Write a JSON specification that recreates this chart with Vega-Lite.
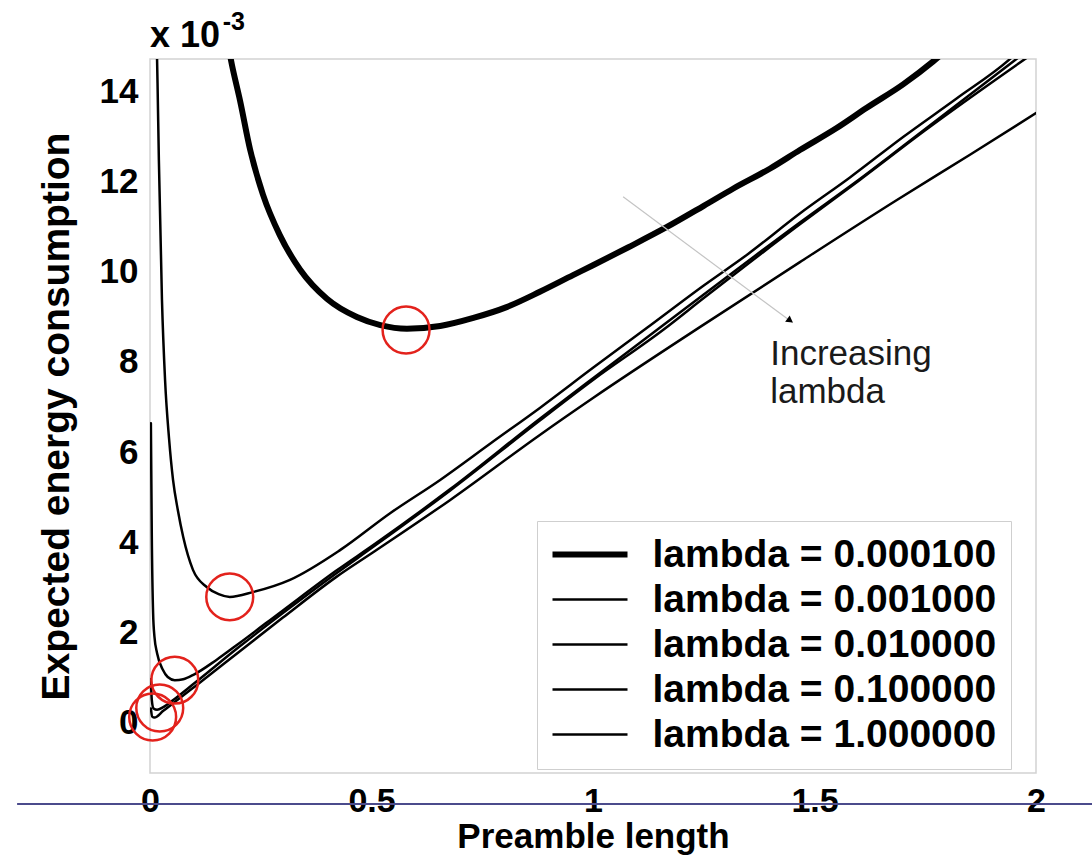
{
  "$schema": "https://vega.github.io/schema/vega-lite/v6.json",
  "width": 886,
  "height": 714,
  "autosize": {"type": "none"},
  "padding": {"left": 150, "top": 59, "right": 56, "bottom": 89},
  "background": "white",
  "config": {
    "view": {"stroke": "#d2d2d2", "strokeWidth": 1.5},
    "font": "Liberation Sans",
    "axis": {"labelFont": "Liberation Sans", "titleFont": "Liberation Sans", "labelFontWeight": "bold", "titleFontWeight": "bold", "labelColor": "black", "titleColor": "black"},
    "legend": {"labelFont": "Liberation Sans"}
  },
  "datasets": {
    "curves": [
      {"s": "lambda = 0.000100", "x": 0.175, "y": 15.1},
      {"s": "lambda = 0.000100", "x": 0.185, "y": 14.6},
      {"s": "lambda = 0.000100", "x": 0.203, "y": 13.82},
      {"s": "lambda = 0.000100", "x": 0.226, "y": 12.72},
      {"s": "lambda = 0.000100", "x": 0.255, "y": 11.72},
      {"s": "lambda = 0.000100", "x": 0.293, "y": 10.82},
      {"s": "lambda = 0.000100", "x": 0.339, "y": 10.05},
      {"s": "lambda = 0.000100", "x": 0.4, "y": 9.4},
      {"s": "lambda = 0.000100", "x": 0.467, "y": 9.0},
      {"s": "lambda = 0.000100", "x": 0.52, "y": 8.82},
      {"s": "lambda = 0.000100", "x": 0.58, "y": 8.74},
      {"s": "lambda = 0.000100", "x": 0.655, "y": 8.8},
      {"s": "lambda = 0.000100", "x": 0.73, "y": 8.98},
      {"s": "lambda = 0.000100", "x": 0.805, "y": 9.22},
      {"s": "lambda = 0.000100", "x": 0.88, "y": 9.56},
      {"s": "lambda = 0.000100", "x": 0.955, "y": 9.93},
      {"s": "lambda = 0.000100", "x": 1.0, "y": 10.15},
      {"s": "lambda = 0.000100", "x": 1.08, "y": 10.55},
      {"s": "lambda = 0.000100", "x": 1.167, "y": 11.0},
      {"s": "lambda = 0.000100", "x": 1.25, "y": 11.47},
      {"s": "lambda = 0.000100", "x": 1.316, "y": 11.85},
      {"s": "lambda = 0.000100", "x": 1.4, "y": 12.3},
      {"s": "lambda = 0.000100", "x": 1.467, "y": 12.71},
      {"s": "lambda = 0.000100", "x": 1.55, "y": 13.2},
      {"s": "lambda = 0.000100", "x": 1.618, "y": 13.65},
      {"s": "lambda = 0.000100", "x": 1.7, "y": 14.17},
      {"s": "lambda = 0.000100", "x": 1.768, "y": 14.68},
      {"s": "lambda = 0.000100", "x": 1.8, "y": 14.95},

      {"s": "lambda = 0.001000", "x": 0.0148, "y": 15.3},
      {"s": "lambda = 0.001000", "x": 0.017, "y": 14.2},
      {"s": "lambda = 0.001000", "x": 0.02, "y": 12.5},
      {"s": "lambda = 0.001000", "x": 0.027, "y": 9.38},
      {"s": "lambda = 0.001000", "x": 0.034, "y": 7.6},
      {"s": "lambda = 0.001000", "x": 0.043, "y": 6.3},
      {"s": "lambda = 0.001000", "x": 0.052, "y": 5.38},
      {"s": "lambda = 0.001000", "x": 0.063, "y": 4.7},
      {"s": "lambda = 0.001000", "x": 0.075, "y": 4.11},
      {"s": "lambda = 0.001000", "x": 0.097, "y": 3.38},
      {"s": "lambda = 0.001000", "x": 0.128, "y": 3.0},
      {"s": "lambda = 0.001000", "x": 0.155, "y": 2.84},
      {"s": "lambda = 0.001000", "x": 0.18, "y": 2.78},
      {"s": "lambda = 0.001000", "x": 0.233, "y": 2.89},
      {"s": "lambda = 0.001000", "x": 0.316, "y": 3.16},
      {"s": "lambda = 0.001000", "x": 0.429, "y": 3.82},
      {"s": "lambda = 0.001000", "x": 0.542, "y": 4.64},
      {"s": "lambda = 0.001000", "x": 0.655, "y": 5.38},
      {"s": "lambda = 0.001000", "x": 0.77, "y": 6.2},
      {"s": "lambda = 0.001000", "x": 0.88, "y": 6.98},
      {"s": "lambda = 0.001000", "x": 1.0, "y": 7.87},
      {"s": "lambda = 0.001000", "x": 1.122, "y": 8.76},
      {"s": "lambda = 0.001000", "x": 1.25, "y": 9.7},
      {"s": "lambda = 0.001000", "x": 1.35, "y": 10.4},
      {"s": "lambda = 0.001000", "x": 1.467, "y": 11.3},
      {"s": "lambda = 0.001000", "x": 1.58, "y": 12.1},
      {"s": "lambda = 0.001000", "x": 1.7, "y": 13.0},
      {"s": "lambda = 0.001000", "x": 1.82, "y": 13.85},
      {"s": "lambda = 0.001000", "x": 1.941, "y": 14.73},
      {"s": "lambda = 0.001000", "x": 1.96, "y": 14.9},

      {"s": "lambda = 0.010000", "x": 0.002, "y": 6.64},
      {"s": "lambda = 0.010000", "x": 0.004, "y": 4.2},
      {"s": "lambda = 0.010000", "x": 0.007, "y": 2.42},
      {"s": "lambda = 0.010000", "x": 0.01, "y": 1.9},
      {"s": "lambda = 0.010000", "x": 0.016, "y": 1.53},
      {"s": "lambda = 0.010000", "x": 0.029, "y": 1.16},
      {"s": "lambda = 0.010000", "x": 0.04, "y": 1.0},
      {"s": "lambda = 0.010000", "x": 0.056, "y": 0.93},
      {"s": "lambda = 0.010000", "x": 0.075, "y": 0.95},
      {"s": "lambda = 0.010000", "x": 0.1, "y": 1.06},
      {"s": "lambda = 0.010000", "x": 0.15, "y": 1.38},
      {"s": "lambda = 0.010000", "x": 0.2, "y": 1.74},
      {"s": "lambda = 0.010000", "x": 0.3, "y": 2.48},
      {"s": "lambda = 0.010000", "x": 0.42, "y": 3.36},
      {"s": "lambda = 0.010000", "x": 0.508, "y": 3.96},
      {"s": "lambda = 0.010000", "x": 0.677, "y": 5.17},
      {"s": "lambda = 0.010000", "x": 0.88, "y": 6.74},
      {"s": "lambda = 0.010000", "x": 1.0, "y": 7.64},
      {"s": "lambda = 0.010000", "x": 1.144, "y": 8.71},
      {"s": "lambda = 0.010000", "x": 1.25, "y": 9.5},
      {"s": "lambda = 0.010000", "x": 1.467, "y": 11.1},
      {"s": "lambda = 0.010000", "x": 1.6, "y": 12.05},
      {"s": "lambda = 0.010000", "x": 1.75, "y": 13.18},
      {"s": "lambda = 0.010000", "x": 1.962, "y": 14.78},

      {"s": "lambda = 0.100000", "x": 0.002, "y": 0.95},
      {"s": "lambda = 0.100000", "x": 0.004, "y": 0.5},
      {"s": "lambda = 0.100000", "x": 0.008, "y": 0.3},
      {"s": "lambda = 0.100000", "x": 0.016, "y": 0.27},
      {"s": "lambda = 0.100000", "x": 0.03, "y": 0.33},
      {"s": "lambda = 0.100000", "x": 0.05, "y": 0.47},
      {"s": "lambda = 0.100000", "x": 0.1, "y": 0.86},
      {"s": "lambda = 0.100000", "x": 0.2, "y": 1.66},
      {"s": "lambda = 0.100000", "x": 0.3, "y": 2.42},
      {"s": "lambda = 0.100000", "x": 0.42, "y": 3.3},
      {"s": "lambda = 0.100000", "x": 0.508, "y": 3.92},
      {"s": "lambda = 0.100000", "x": 0.677, "y": 5.14},
      {"s": "lambda = 0.100000", "x": 0.88, "y": 6.7},
      {"s": "lambda = 0.100000", "x": 1.0, "y": 7.6},
      {"s": "lambda = 0.100000", "x": 1.158, "y": 8.71},
      {"s": "lambda = 0.100000", "x": 1.25, "y": 9.42},
      {"s": "lambda = 0.100000", "x": 1.467, "y": 11.06},
      {"s": "lambda = 0.100000", "x": 1.6, "y": 12.03},
      {"s": "lambda = 0.100000", "x": 1.75, "y": 13.15},
      {"s": "lambda = 0.100000", "x": 1.985, "y": 14.8},

      {"s": "lambda = 1.000000", "x": 0.002, "y": 0.3},
      {"s": "lambda = 1.000000", "x": 0.005, "y": 0.12},
      {"s": "lambda = 1.000000", "x": 0.01, "y": 0.1},
      {"s": "lambda = 1.000000", "x": 0.03, "y": 0.25},
      {"s": "lambda = 1.000000", "x": 0.05, "y": 0.4},
      {"s": "lambda = 1.000000", "x": 0.1, "y": 0.78},
      {"s": "lambda = 1.000000", "x": 0.2, "y": 1.55},
      {"s": "lambda = 1.000000", "x": 0.3, "y": 2.32},
      {"s": "lambda = 1.000000", "x": 0.42, "y": 3.22},
      {"s": "lambda = 1.000000", "x": 0.508, "y": 3.8},
      {"s": "lambda = 1.000000", "x": 0.677, "y": 4.93},
      {"s": "lambda = 1.000000", "x": 0.88, "y": 6.38},
      {"s": "lambda = 1.000000", "x": 1.0, "y": 7.2},
      {"s": "lambda = 1.000000", "x": 1.242, "y": 8.78},
      {"s": "lambda = 1.000000", "x": 1.467, "y": 10.22},
      {"s": "lambda = 1.000000", "x": 1.686, "y": 11.6},
      {"s": "lambda = 1.000000", "x": 1.85, "y": 12.6},
      {"s": "lambda = 1.000000", "x": 2.0, "y": 13.53}
    ],
    "circles": [
      {"x": 0.578, "y": 8.71},
      {"x": 0.18, "y": 2.78},
      {"x": 0.056, "y": 0.93},
      {"x": 0.022, "y": 0.31},
      {"x": 0.006, "y": 0.11}
    ]
  },
  "layer": [
    {
      "data": {"values": [{}]},
      "mark": {"type": "rule", "color": "#4b4b8c", "strokeWidth": 2},
      "encoding": {
        "x": {"datum": -0.3, "type": "quantitative"},
        "x2": {"datum": 2.2},
        "y": {"datum": -1.82, "type": "quantitative"}
      }
    },
    {
      "data": {"name": "curves"},
      "mark": {"type": "line", "clip": true, "interpolate": "monotone", "strokeJoin": "round", "strokeCap": "round"},
      "encoding": {
        "x": {
          "field": "x", "type": "quantitative",
          "scale": {"domain": [0, 2], "nice": false, "zero": false},
          "axis": {
            "title": "Preamble length", "values": [0, 0.5, 1, 1.5, 2], "format": "~g",
            "domain": false, "ticks": false, "tickSize": 0, "grid": false, "offset": 31,
            "labelPadding": 7, "labelBaseline": "alphabetic", "labelFontSize": 34, "labelFlush": false,
            "titleFontSize": 35, "titleY": 43, "titleBaseline": "alphabetic"
          }
        },
        "y": {
          "field": "y", "type": "quantitative",
          "scale": {"domain": [-1.133, 14.733], "nice": false, "zero": false},
          "axis": {
            "title": "Expected energy consumption", "values": [0, 2, 4, 6, 8, 10, 12, 14],
            "domain": false, "ticks": false, "tickSize": 0, "grid": false,
            "labelPadding": 12, "labelFontSize": 35,
            "titleFontSize": 39, "titleX": -82, "titleBaseline": "alphabetic"
          }
        },
        "color": {
          "field": "s", "type": "ordinal",
          "scale": {"domain": ["lambda = 0.000100", "lambda = 0.001000", "lambda = 0.010000", "lambda = 0.100000", "lambda = 1.000000"], "range": ["black", "black", "black", "black", "black"]},
          "legend": {
            "title": null, "orient": "none", "legendX": 387, "legendY": 462,
            "padding": 14, "strokeColor": "#cfcfcf", "fillColor": "white",
            "symbolType": "M-2.5,0H2.5", "symbolSize": 900, "symbolOffset": 19.5,
            "labelOffset": 43, "labelFontSize": 39, "labelFontWeight": "bold", "labelColor": "black",
            "rowPadding": 5, "labelLimit": 500
          }
        },
        "strokeWidth": {
          "field": "s", "type": "ordinal",
          "scale": {"type": "ordinal", "domain": ["lambda = 0.000100", "lambda = 0.001000", "lambda = 0.010000", "lambda = 0.100000", "lambda = 1.000000"], "range": [6, 2.5, 2.5, 2.5, 2.5]},
          "legend": {
            "title": null, "orient": "none", "legendX": 387, "legendY": 462,
            "padding": 14, "strokeColor": "#cfcfcf", "fillColor": "white",
            "symbolType": "M-2.5,0H2.5", "symbolSize": 900, "symbolOffset": 19.5,
            "labelOffset": 43, "labelFontSize": 39, "labelFontWeight": "bold", "labelColor": "black",
            "rowPadding": 5, "labelLimit": 500
          }
        }
      }
    },
    {
      "data": {"name": "circles"},
      "mark": {"type": "point", "shape": "circle", "filled": false, "stroke": "#e3221c", "strokeWidth": 2.5, "size": 2200, "clip": false, "opacity": 1},
      "encoding": {
        "x": {"field": "x", "type": "quantitative"},
        "y": {"field": "y", "type": "quantitative"}
      }
    },
    {
      "data": {"values": [{}]},
      "mark": {"type": "rule", "color": "#c4c4c4", "strokeWidth": 1.2},
      "encoding": {
        "x": {"datum": 1.068, "type": "quantitative"},
        "y": {"datum": 11.67, "type": "quantitative"},
        "x2": {"datum": 1.451},
        "y2": {"datum": 8.87}
      }
    },
    {
      "data": {"values": [{}]},
      "mark": {"type": "point", "shape": "triangle-up", "filled": true, "color": "black", "size": 60, "angle": 126.5, "opacity": 1},
      "encoding": {
        "x": {"datum": 1.445, "type": "quantitative"},
        "y": {"datum": 8.92, "type": "quantitative"}
      }
    },
    {
      "data": {"values": [{}]},
      "mark": {"type": "text", "text": "Increasing", "align": "left", "baseline": "alphabetic", "fontSize": 35, "font": "Liberation Sans", "color": "#1a1a1a"},
      "encoding": {
        "x": {"datum": 1.4, "type": "quantitative"},
        "y": {"datum": 7.93, "type": "quantitative"}
      }
    },
    {
      "data": {"values": [{}]},
      "mark": {"type": "text", "text": "lambda", "align": "left", "baseline": "alphabetic", "fontSize": 35, "font": "Liberation Sans", "color": "#1a1a1a"},
      "encoding": {
        "x": {"datum": 1.4, "type": "quantitative"},
        "y": {"datum": 7.09, "type": "quantitative"}
      }
    },
    {
      "data": {"values": [{}]},
      "mark": {"type": "text", "text": "x 10", "align": "left", "baseline": "alphabetic", "fontSize": 36, "fontWeight": "bold", "font": "Liberation Sans", "color": "black"},
      "encoding": {
        "x": {"datum": 0, "type": "quantitative"},
        "y": {"datum": 15.0, "type": "quantitative"}
      }
    },
    {
      "data": {"values": [{}]},
      "mark": {"type": "text", "text": "-3", "align": "left", "baseline": "alphabetic", "fontSize": 25, "fontWeight": "bold", "font": "Liberation Sans", "color": "black"},
      "encoding": {
        "x": {"datum": 0.164, "type": "quantitative"},
        "y": {"datum": 15.38, "type": "quantitative"}
      }
    }
  ]
}
